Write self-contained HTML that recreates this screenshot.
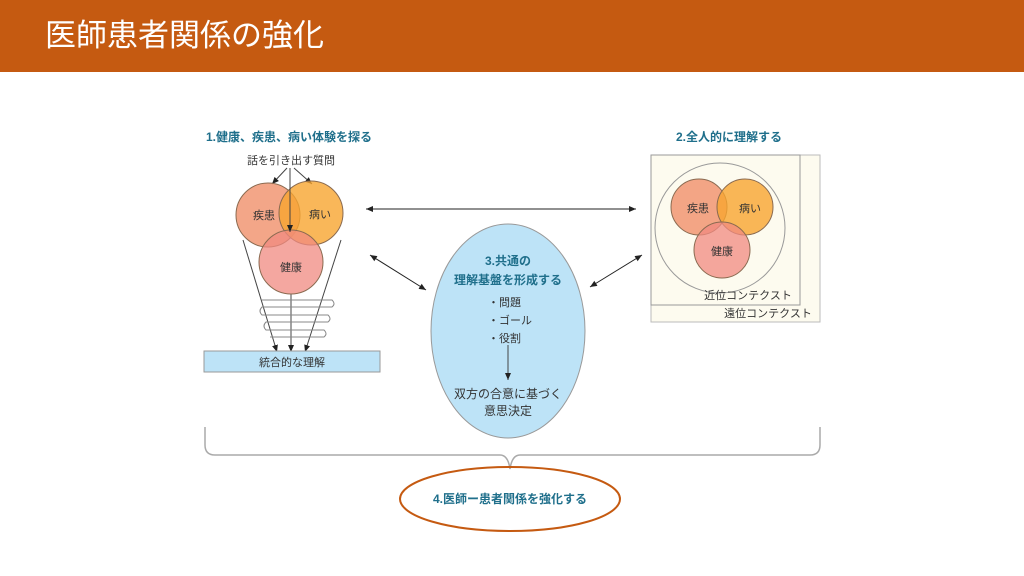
<!DOCTYPE html><html><head><meta charset="utf-8"><style>
body{margin:0;width:1024px;height:576px;background:#fff;overflow:hidden;font-family:"Liberation Sans","Noto Sans CJK JP",sans-serif}
.h{position:absolute;left:0;top:0;width:1024px;height:72px;background:#c55a11;color:#fff;font-size:31px;line-height:72px;padding-left:45px;box-sizing:border-box}
svg{position:absolute;left:0;top:0}
text{font-family:"Liberation Sans","Noto Sans CJK JP",sans-serif}
</style></head><body>
<div class="h">医師患者関係の強化</div>
<svg width="1024" height="576" viewBox="0 0 1024 576">
<defs><marker id="a" markerWidth="8" markerHeight="8" refX="7" refY="4" orient="auto-start-reverse"><path d="M0,1 L7,4 L0,7 z" fill="#222"/></marker></defs>
<g font-size="12" fill="#1f6f8b" font-weight="bold">
<text x="206" y="141">1.健康、疾患、病い体験を探る</text>
<text x="676" y="141">2.全人的に理解する</text>
</g>
<text x="291" y="164" font-size="11" fill="#333" text-anchor="middle">話を引き出す質問</text>
<g stroke="#444" fill="none" stroke-width="1">
<line x1="287" y1="168" x2="272" y2="184" marker-end="url(#a)"/>
<line x1="294" y1="168" x2="312" y2="184" marker-end="url(#a)"/>
<line x1="243" y1="240" x2="277" y2="352" marker-end="url(#a)"/>
<line x1="341" y1="240" x2="305" y2="352" marker-end="url(#a)"/>
<line x1="291" y1="294" x2="291" y2="352" marker-end="url(#a)"/>
<path d="M262,300 h70 q4,4 0,7 h-70 q-4,4 0,8 h66 q4,4 0,7 h-62 q-4,4 0,8 h58 q4,4 0,7 h-54" stroke="#888"/>
</g>
<g stroke="#8a6a50" stroke-width="1">
<circle cx="268" cy="215" r="32" fill="#f0906a" fill-opacity=".8"/>
<circle cx="311" cy="213" r="32" fill="#f7a530" fill-opacity=".8"/>
<circle cx="291" cy="262" r="32" fill="#f08a80" fill-opacity=".75"/>
</g>
<line x1="290" y1="168" x2="290" y2="232" stroke="#444" marker-end="url(#a)"/>
<g font-size="11" fill="#333" text-anchor="middle"><text x="264" y="219">疾患</text><text x="320" y="218">病い</text><text x="291" y="271">健康</text></g>
<rect x="204" y="351" width="176" height="21" fill="#bde3f7" stroke="#999"/>
<text x="292" y="366" font-size="11" fill="#333" text-anchor="middle">統合的な理解</text>
<rect x="651" y="155" width="169" height="167" fill="#fdfbef" stroke="#bbb"/>
<rect x="651" y="155" width="149" height="150" fill="#fdfbef" stroke="#999"/>
<circle cx="720" cy="228" r="65" fill="none" stroke="#999"/>
<g stroke="#8a6a50">
<circle cx="699" cy="207" r="28" fill="#f0906a" fill-opacity=".8"/>
<circle cx="745" cy="207" r="28" fill="#f7a530" fill-opacity=".8"/>
<circle cx="722" cy="250" r="28" fill="#f08a80" fill-opacity=".75"/>
</g>
<g font-size="11" fill="#333" text-anchor="middle"><text x="698" y="212">疾患</text><text x="750" y="212">病い</text><text x="722" y="255">健康</text>
<text x="748" y="299">近位コンテクスト</text><text x="768" y="317">遠位コンテクスト</text></g>
<ellipse cx="508" cy="331" rx="77" ry="107" fill="#bde3f7" stroke="#999"/>
<g font-size="12" fill="#1f6f8b" font-weight="bold" text-anchor="middle">
<text x="508" y="265">3.共通の</text>
<text x="508" y="284">理解基盤を形成する</text>
</g>
<g font-size="11" fill="#333"><text x="488" y="306">・問題</text><text x="488" y="324">・ゴール</text><text x="488" y="342">・役割</text></g>
<line x1="508" y1="345" x2="508" y2="380" stroke="#444" marker-end="url(#a)"/>
<g font-size="12" fill="#333" text-anchor="middle"><text x="508" y="398">双方の合意に基づく</text><text x="508" y="415">意思決定</text></g>
<g stroke="#222" fill="none">
<line x1="366" y1="209" x2="636" y2="209" marker-start="url(#a)" marker-end="url(#a)"/>
<line x1="370" y1="255" x2="426" y2="290" marker-start="url(#a)" marker-end="url(#a)"/>
<line x1="642" y1="255" x2="590" y2="287" marker-start="url(#a)" marker-end="url(#a)"/>
</g>
<path d="M205,427 v18 q0,10 10,10 h285 q8,0 10,14 q2,-14 10,-14 h290 q10,0 10,-10 v-18" fill="none" stroke="#aaa" stroke-width="1.5"/>
<ellipse cx="510" cy="499" rx="110" ry="32" fill="none" stroke="#c55a11" stroke-width="2"/>
<text x="510" y="503" font-size="12" fill="#1f6f8b" font-weight="bold" text-anchor="middle">4.医師ー患者関係を強化する</text>
</svg></body></html>
